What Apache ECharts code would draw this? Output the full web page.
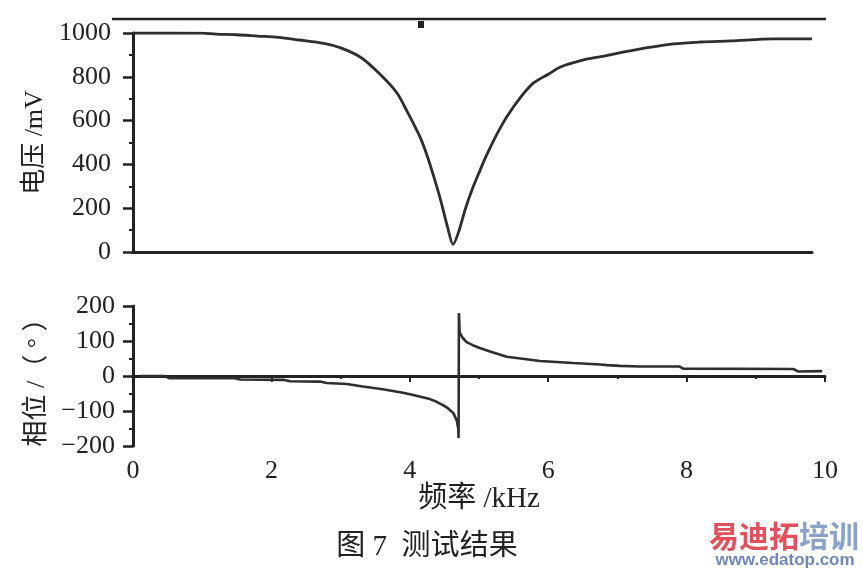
<!DOCTYPE html>
<html>
<head>
<meta charset="utf-8">
<script src="https://cdn.jsdelivr.net/npm/echarts@6/dist/echarts.min.js"></script>
<style>
html,body{margin:0;padding:0;background:#fff;}
#c{width:863px;height:575px;}
</style>
</head>
<body>
<div id="c"></div>
<script>
// ---- data ----
const freqV = [0, 0.5, 1.0, 1.2, 1.5, 1.8, 2.1, 2.4, 2.75, 3.0, 3.3, 3.57, 3.81, 3.96, 4.05, 4.15, 4.25, 4.35, 4.44, 4.54, 4.62, 4.70, 4.80, 4.90, 5.01, 5.10, 5.26, 5.40, 5.59, 5.78, 6.0, 6.17, 6.5, 6.75, 7.23, 7.8, 8.19, 8.63, 9.25, 9.8];
const voltage = [1000, 1000, 999, 995, 992, 986, 980, 968, 953, 932, 886, 810, 726, 640, 585, 520, 435, 335, 237, 114, 35, 92, 200, 290, 374, 440, 543, 620, 705, 772, 813, 845, 877, 892, 922, 950, 959, 964, 973, 973];

const freqP = [0.1, 0.45, 0.52, 1.45, 1.55, 2.17, 2.27, 2.70, 2.80, 3.09, 3.32, 3.61, 3.90, 4.05, 4.29, 4.38, 4.48, 4.55, 4.63, 4.68, 4.70, 4.705, 4.71, 4.72, 4.76, 4.82, 4.91, 5.01, 5.16, 5.40, 5.60, 5.88, 6.36, 6.75, 6.85, 7.04, 7.33, 7.9, 7.95, 9.54, 9.61, 9.96];
const phase = [0, 0, -6, -6, -10, -11, -15, -16, -20, -23, -30, -38, -48, -54, -66, -73, -83, -92, -106, -128, -150, -177, 180, 125, 110, 97, 88, 80, 70, 55, 50, 43, 37, 33, 31, 29, 27, 27, 21, 20, 13, 14];

const yTicksV = {min: 0, max: 1000, interval: 200};
const yTicksP = {min: -200, max: 200, interval: 100};
const xTicks = {min: 0, max: 10, interval: 2};

const yNameV = '电压 /mV';
const yNameP = '相位 /（ ° ）';
const xName = '频率 /kHz';
const caption = '图 7  测试结果';

// ---- chart ----
const serif = '"Liberation Serif", "Noto Sans CJK SC", serif';
const ink = '#222';
const chart = echarts.init(document.getElementById('c'), null, {renderer: 'canvas'});

const axisLine = {show: true, lineStyle: {color: ink, width: 3}};
const labelStyle = {color: ink, fontFamily: serif, fontSize: 26};
const fmt = v => String(v).replace('-', '\u2212');

chart.setOption({
  animation: false,
  backgroundColor: '#fff',
  grid: [
    {left: 133, top: 33, width: 679, height: 219},
    {left: 133, top: 306, width: 692, height: 140}
  ],
  xAxis: [
    {
      gridIndex: 0, type: 'value', min: 0, max: 9.8,
      axisLine: axisLine, axisTick: {show: false}, axisLabel: {show: false},
      splitLine: {show: false}
    },
    {
      gridIndex: 1, type: 'value', min: xTicks.min, max: xTicks.max, interval: xTicks.interval,
      axisLine: axisLine,
      axisTick: {show: true, length: 6, lineStyle: {color: ink, width: 2}},
      minorTick: {show: true, splitNumber: 2, length: 3, lineStyle: {color: ink, width: 2}},
      axisLabel: Object.assign({margin: 12, formatter: fmt}, labelStyle),
      splitLine: {show: false},
      name: xName, nameLocation: 'middle', nameGap: 36,
      nameTextStyle: {color: ink, fontFamily: serif, fontSize: 29}
    }
  ],
  yAxis: [
    {
      gridIndex: 0, type: 'value', min: yTicksV.min, max: yTicksV.max, interval: yTicksV.interval,
      axisLine: axisLine,
      axisTick: {show: true, length: 10, lineStyle: {color: ink, width: 2.5}},
      minorTick: {show: true, splitNumber: 2, length: 4, lineStyle: {color: ink, width: 2}},
      axisLabel: Object.assign({margin: 22, formatter: fmt}, labelStyle),
      splitLine: {show: false},
      name: yNameV, nameLocation: 'middle', nameGap: 80, nameRotate: 90,
      nameTextStyle: {color: ink, fontFamily: serif, fontSize: 26}
    },
    {
      gridIndex: 1, type: 'value', min: yTicksP.min, max: yTicksP.max, interval: yTicksP.interval,
      axisLine: axisLine,
      axisTick: {show: true, length: 10, lineStyle: {color: ink, width: 2.5}},
      minorTick: {show: true, splitNumber: 2, length: 4, lineStyle: {color: ink, width: 2}},
      axisLabel: Object.assign({margin: 18, formatter: fmt}, labelStyle),
      splitLine: {show: false},
      name: yNameP, nameLocation: 'middle', nameGap: 77, nameRotate: 90,
      nameTextStyle: {color: ink, fontFamily: serif, fontSize: 26}
    }
  ],
  series: [
    {
      type: 'line', xAxisIndex: 0, yAxisIndex: 0, showSymbol: false,
      smooth: 0.3,
      lineStyle: {color: '#2e2e2e', width: 2.8},
      data: freqV.map((f, i) => [f, voltage[i]])
    },
    {
      type: 'line', xAxisIndex: 1, yAxisIndex: 1, showSymbol: false, smooth: false,
      lineStyle: {color: '#2e2e2e', width: 2.6},
      data: freqP.map((f, i) => [f, phase[i]])
    }
  ],
  graphic: [
    {type: 'line', shape: {x1: 112, y1: 19, x2: 826, y2: 19}, style: {stroke: ink, lineWidth: 2.5}},
    {type: 'rect', shape: {x: 418, y: 21, width: 6, height: 7}, style: {fill: ink}},
    {type: 'text', x: 427, y: 547, style: {text: caption, fill: ink, font: '29px ' + serif, align: 'center', verticalAlign: 'middle'}},
    {type: 'text', x: 784, y: 536, style: {
      text: '{r|易迪拓}{b|培训}', align: 'center', verticalAlign: 'middle',
      rich: {
        r: {fill: '#e2505c', fontSize: 30, fontWeight: 'bold', fontFamily: '"Noto Sans CJK SC"'},
        b: {fill: '#8ba2c9', fontSize: 30, fontWeight: 'bold', fontFamily: '"Noto Sans CJK SC"'}
      }
    }},
    {type: 'text', x: 785, y: 560, style: {text: 'www.edatop.com', fill: '#7088b8', font: 'bold 17px "Liberation Sans", sans-serif', align: 'center', verticalAlign: 'middle'}}
  ]
});
</script>
</body>
</html>
